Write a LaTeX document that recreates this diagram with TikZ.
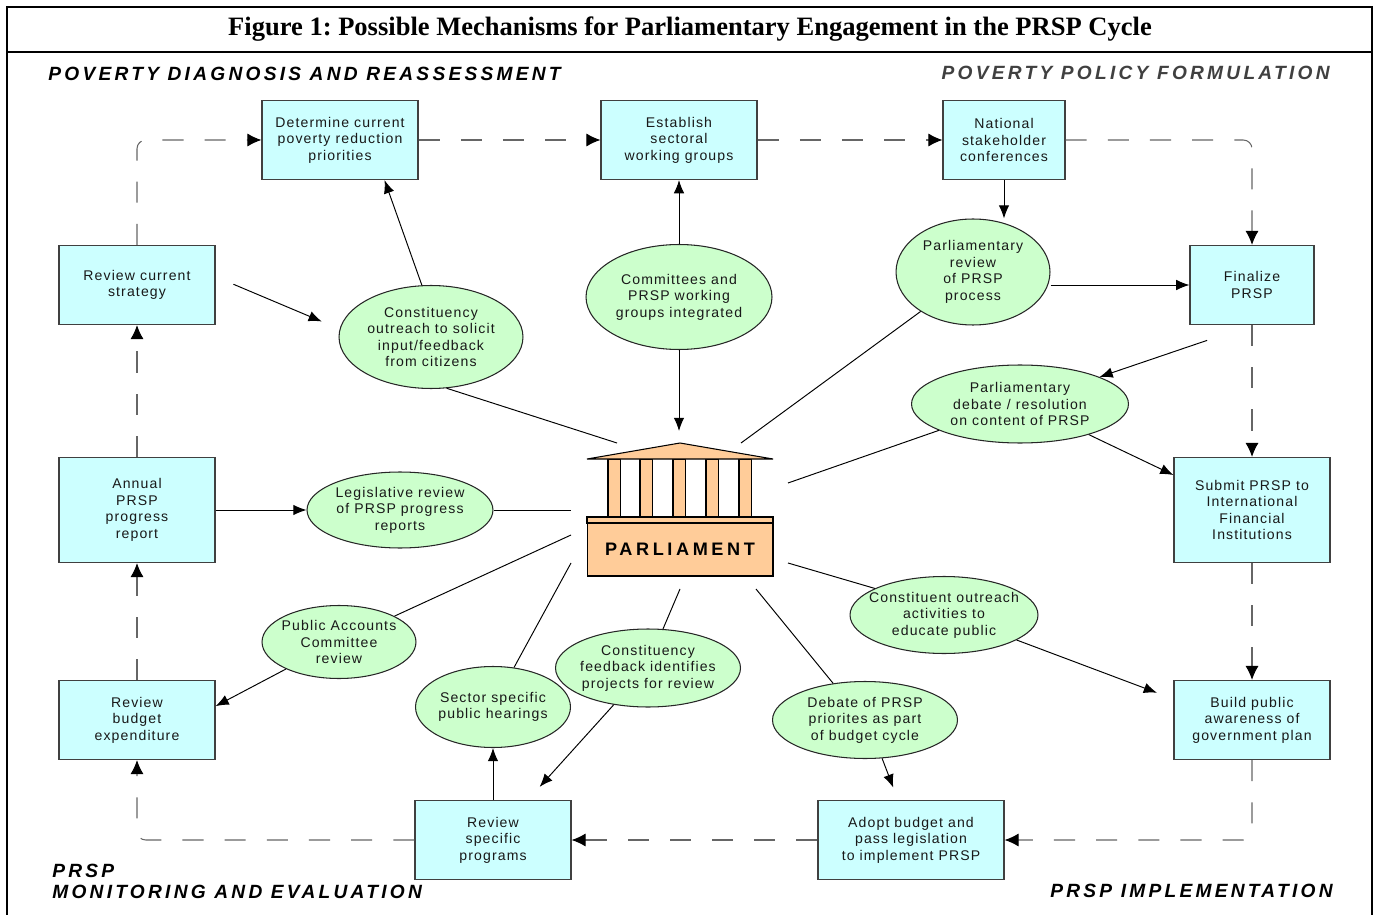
\documentclass[tikz,border=0pt]{standalone}
\usepackage{fontspec}
\setmainfont{Liberation Sans}
\newfontfamily\titlefont{Liberation Serif}
\newfontfamily\labelfont{Liberation Sans}[LetterSpace=8]
\newfontfamily\headfont{Liberation Sans}[LetterSpace=17]
\newfontfamily\parlfont{Liberation Sans}[LetterSpace=20]
\usetikzlibrary{arrows.meta,shapes.geometric}

\definecolor{boxcyan}{HTML}{CCFFFF}
\definecolor{ovalgreen}{HTML}{CCFFCC}
\definecolor{parlpeach}{HTML}{FFCC99}

\tikzset{
  stage/.style={draw=black!75, line width=0.7pt, fill=boxcyan, inner sep=0pt, align=center,
    text=black!90, font=\labelfont\fontsize{8}{9.4}\selectfont, minimum width=3.12cm, minimum height=1.58cm},
  action/.style={ellipse, draw=black!85, line width=0.6pt, fill=ovalgreen, inner ysep=0pt, inner xsep=-5pt,
    align=center, text=black!90, font=\labelfont\fontsize{8}{9.4}\selectfont},
  cyclearrow/.style={draw=black!60, line width=0.6pt, dash pattern=on 12pt off 12pt,
    -{Latex[length=8pt,width=7.5pt,color=black]}, rounded corners=5pt},
  link/.style={line width=0.55pt},
  parlpart/.style={draw=black, line width=0.6pt, fill=parlpeach},
  heading/.style={inner sep=0pt, font=\headfont\bfseries\itshape\fontsize{10.9}{12}\selectfont},
}

\begin{document}
\begin{tikzpicture}[>={Latex[length=7.5pt,width=6pt]}, x=0.02cm, y=-0.02cm]
		\useasboundingbox (0,0) rectangle (1375,915);
		% Definizioni per le misure ricorrenti
		\def\wide{3.72cm}   % larghezza dei nodi larghi
		\def\tall{2.1cm}    % altezza dei riquadri a quattro righe
		
		% --- Cornice e titolo ---
		\draw[line width=1.1pt] (7,915) -- (7,7) -- (1372,7) -- (1372,915);
		\draw[line width=1.1pt] (7,52) -- (1372,52);
		\node[font=\titlefont\bfseries\fontsize{15.1}{18}\selectfont\frenchspacing] (title) at (690,29)
		{Figure 1: Possible Mechanisms for Parliamentary Engagement in the PRSP Cycle};
		
		% --- Fasi del ciclo ---
		\node[heading, anchor=west] (hdiag) at (48,74) {POVERTY DIAGNOSIS AND REASSESSMENT};
		\node[heading, anchor=east, text=black!75] (hpol) at (1330,73) {POVERTY POLICY FORMULATION};
		\node[heading, anchor=west, align=left] (hmon) at (52,881) {PRSP\\MONITORING AND EVALUATION};
		\node[heading, anchor=east] (himp) at (1333,891) {PRSP IMPLEMENTATION};
		
		% --- Riquadri ---
		\node[stage] (det) at (340,140) {Determine current\\poverty reduction\\priorities};
		\node[stage] (est) at (679,140) {Establish\\sectoral\\working groups};
		\node[stage, minimum width=2.44cm] (nsc) at (1004,140) {National\\stakeholder\\conferences};
		\node[stage] (rcs) at (137,285) {Review current\\strategy};
		\node[stage, minimum width=2.48cm] (fin) at (1252,285) {Finalize\\PRSP};
		\node[stage, minimum height=\tall] (ann) at (137,510) {Annual\\PRSP\\progress\\report};
		\node[stage, minimum height=\tall] (sub) at (1252,510) {Submit PRSP to\\International\\Financial\\Institutions};
		\node[stage] (rbe) at (137,720) {Review\\budget\\expenditure};
		\node[stage] (bpa) at (1252,720) {Build public\\awareness of\\government plan};
		\node[stage] (rsp) at (493,840) {Review\\specific\\programs};
		\node[stage, minimum width=\wide] (abl) at (911,840) {Adopt budget and\\pass legislation\\to implement PRSP};
		
		% --- Ellissi ---
		\node[action, minimum width=3.68cm, minimum height=2.06cm] (cout) at (431,337) {Constituency\\outreach to solicit\\input/feedback\\from citizens};
		\node[action, minimum width=\wide, minimum height=\tall] (cwg) at (679,297) {Committees and\\PRSP working\\groups integrated};
		\node[action, minimum width=3.08cm, minimum height=2.12cm] (prev) at (973,272) {Parliamentary\\review\\of PRSP\\process};
		\node[action, minimum width=4.34cm, minimum height=1.56cm] (pdeb) at (1020,404) {Parliamentary\\debate / resolution\\on content of PRSP};
		\node[action, minimum width=\wide, minimum height=1.52cm] (lrev) at (400,510) {Legislative review\\of PRSP progress\\reports};
		\node[action, minimum width=3.76cm, minimum height=1.54cm] (cact) at (944,615) {Constituent outreach\\activities to\\educate public};
		\node[action, minimum width=3.08cm, minimum height=1.46cm] (pac) at (339,642) {Public Accounts\\Committee\\review};
		\node[action, minimum width=3.1cm, minimum height=1.62cm] (shear) at (493,707) {Sector specific\\public hearings};
		\node[action, minimum width=3.7cm, minimum height=1.56cm] (cfb) at (648,668) {Constituency\\feedback identifies\\projects for review};
		\node[action, minimum width=3.7cm, minimum height=1.54cm] (dbud) at (865,720) {Debate of PRSP\\priorites as part\\of budget cycle};
		
		% --- Parlamento ---
		\foreach \cx in {608,640,673,706,739}
		\draw[parlpart] (\cx,459) rectangle ++(12.5,58);
		\draw[parlpart] (587,459) -- (680,443) -- (773,459) -- cycle;
		\draw[parlpart] (587,517) rectangle (773,523);
		\node[parlpart, minimum width=\wide, minimum height=1.06cm,
		font=\parlfont\bfseries\fontsize{10.3}{12}\selectfont] (parl) at (680,549.5) {PARLIAMENT};
		% Estremi liberi dei collegamenti attorno al parlamento
		\coordinate (pn) at (679,431);
		\coordinate (pnw) at (617,443);
		\coordinate (pne) at (741,443);
		\coordinate (pe1) at (788,483);
		\coordinate (pe2) at (788,563);
		\coordinate (pw1) at (571,510);
		\coordinate (pw2) at (571,535);
		\coordinate (pw3) at (571,563);
		\coordinate (ps1) at (680,589);
		\coordinate (ps2) at (756,589);
		
		% --- Ciclo tratteggiato ---
		\draw[cyclearrow] (rcs.north) |- (det.west);
		\draw[cyclearrow] (det.east) -- (est.west);
		\draw[cyclearrow] (est.east) -- (nsc.west);
		\draw[cyclearrow] (nsc.east) -| (fin.north);
		\draw[cyclearrow] (fin.south) -- (sub.north);
		\draw[cyclearrow] (sub.south) -- (bpa.north);
		\draw[cyclearrow] (bpa.south) |- (abl.east);
		\draw[cyclearrow] (abl.west) -- (rsp.east);
		\draw[cyclearrow] (rsp.west) -| (rbe.south);
		\draw[cyclearrow] (rbe.north) -- (ann.south);
		\draw[cyclearrow] (ann.north) -- (rcs.south);
		
		% --- Collegamenti ---
		\draw[link,->] (cout.100) -- (det.-42);
		\draw[link,->, shorten <=11pt, shorten >=11pt] (rcs.6) -- (cout.175);
		\draw[link] (cout.-73) -- (pnw);
		\draw[link,->] (cwg.north) -- (est.south);
		\draw[link,->] (cwg.south) -- (pn);
		\draw[link,->] (nsc.south) -- (nsc.south |- prev.north);
		\draw[link,->] (prev.east |- fin) -- (fin.west);
		\draw[link] (prev.217) -- (pne);
		\draw[link,->, shorten <=27pt] (fin.south) -- (pdeb);
		\draw[link,->] (pdeb.-24) -- (sub.156);
		\draw[link] (pdeb.198) -- (pe1);
		\draw[link,->] (ann.east) -- (lrev.west);
		\draw[link] (lrev.east) -- (pw1);
		\draw[link,->] (pac.207) -- (rbe.10);
		\draw[link] (pac.25) -- (pw2);
		\draw[link] (shear.62) -- (pw3);
		\draw[link,->] (rsp.north) -- (shear.south);
		\draw[link,->, shorten >=10pt] (cfb.227) -- (rsp.49);
		\draw[link] (cfb.69) -- (ps1);
		\draw[link] (dbud.131) -- (ps2);
		\draw[link,->, shorten >=7.5pt] (dbud.-66) -- (abl.108);
		\draw[link] (cact.159) -- (pe2);
		\draw[link,->, shorten >=10pt] (cact.-19) -- (bpa.165);
	\end{tikzpicture}
\end{document}
